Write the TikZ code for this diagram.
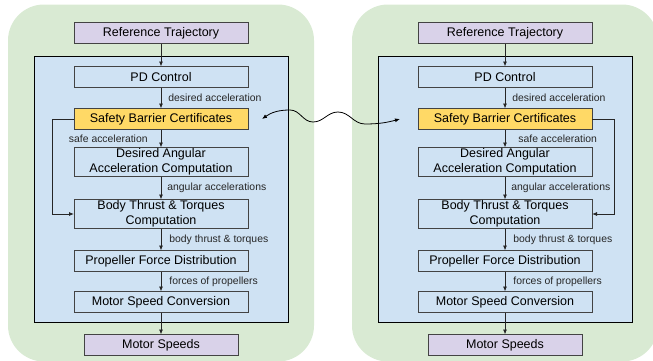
\documentclass[tikz,border=0pt]{standalone}
\usepackage{fontspec}
\setmainfont{Liberation Sans}
\usetikzlibrary{arrows.meta,positioning,fit,backgrounds}
\definecolor{panelgreen}{HTML}{D9EAD3}
\definecolor{ctrlblue}{HTML}{CFE2F3}
\definecolor{iopurple}{HTML}{D9D2E9}
\definecolor{cbfyellow}{HTML}{FFD966}
\definecolor{edgegray}{HTML}{434343}
\tikzset{
  block/.style={draw=edgegray, line width=0.9pt, align=center, inner sep=1pt, outer sep=0pt, fill=ctrlblue,
    minimum width=174pt, minimum height=21pt, font=\fontsize{12.5}{15}\selectfont},
  twoline/.style={block, minimum height=29pt, inner sep=0pt},
  io/.style={block, fill=iopurple},
  line/.style={-{Latex[length=5pt,width=4pt]}, line width=0.8pt, draw=black!85},
  lbl/.style={font=\fontsize{10.4}{12}\selectfont, inner sep=0pt, text=black!85}
}

\begin{document}
\begin{tikzpicture}[x=1pt, y=1pt]
\useasboundingbox (0,0) rectangle (653,360);

\foreach \s/\cx/\side/\anc/\sgn in {L/161/left/west/-1, R/505/right/east/1}{
  \node (ref\s) [io] at (\cx,327) {Reference Trajectory};
  \node (pd\s) [block, below=23pt of ref\s] {PD Control};
  \node (sbc\s) [block, fill=cbfyellow, below=21pt of pd\s] {Safety Barrier Certificates};
  \node (daac\s) [twoline, below=18pt of sbc\s] {Desired Angular\\Acceleration Computation};
  \node (bttc\s) [twoline, below=23pt of daac\s] {Body Thrust \& Torques\\Computation};
  \node (pfd\s) [block, below=22pt of bttc\s] {Propeller Force Distribution};
  \node (msc\s) [block, below=20pt of pfd\s] {Motor Speed Conversion};
  \node (ms\s) [io, minimum width=154pt, below=22pt of msc\s] {Motor Speeds};

  \begin{scope}[on background layer]
    \node (panel\s) [fill=panelgreen, rounded corners=36pt, inner xsep=66pt, inner ysep=12pt, yshift=6pt, fit=(ref\s)(ms\s)] {};
    \node (ctrl\s) [draw=black, line width=1pt, fill=ctrlblue, inner xsep=40pt, inner ysep=10pt, fit=(pd\s)(msc\s)] {};
  \end{scope}

  \draw[line] (ref\s) -- (pd\s);
  \draw[line] (pd\s) -- node (da\s) [lbl, right=7pt] {desired acceleration} (sbc\s);
  \draw[line] (sbc\s) -- node (sa\s) [lbl, \side=13pt] {safe acceleration} (daac\s);
  \draw[line] (daac\s) -- node (aa\s) [lbl, right=6pt] {angular accelerations} (bttc\s);
  \draw[line] (bttc\s) -- node (bt\s) [lbl, right=8pt] {body thrust \& torques} (pfd\s);
  \draw[line] (pfd\s) -- node (fp\s) [lbl, right=8pt] {forces of propellers} (msc\s);
  \draw[line] (msc\s) -- (ms\s);
  \draw[line] (sbc\s.\anc) -- ++(\sgn*22,0) |- (bttc\s.\anc);
}

\draw[{Latex[length=5pt,width=4pt]}-{Latex[length=5pt,width=4pt]}, line width=0.8pt]
  ([xshift=14pt]sbcL.east) to[out=35,in=180] ++(28,9) to[out=0,in=180] ++(23,-12)
  to[out=0,in=180] ++(25,10) to[out=0,in=180] ++(27,-12) to[out=0,in=195] ([xshift=-18pt]sbcR.west);

\end{tikzpicture}
\end{document}
